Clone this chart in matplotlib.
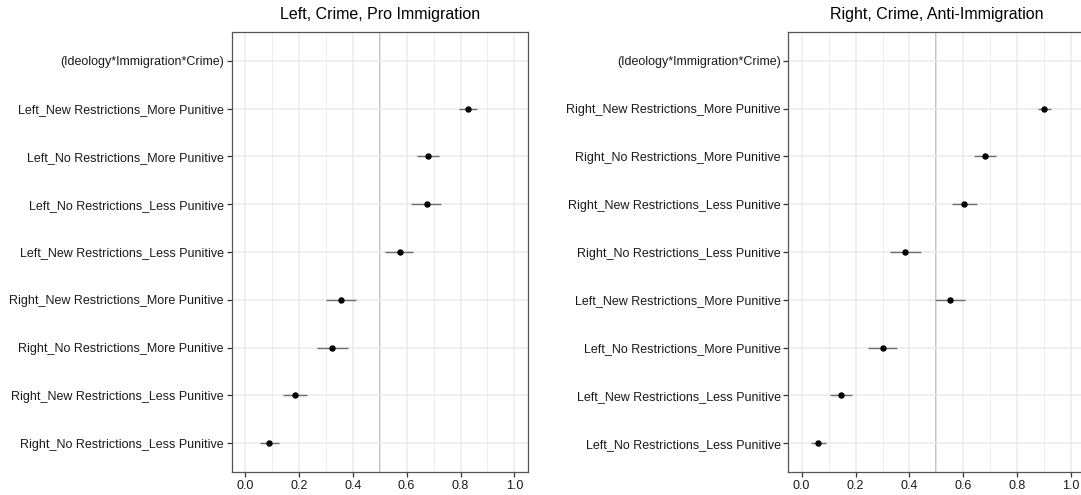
import numpy as np
import matplotlib.pyplot as plt

plt.rcParams['font.family'] = ['Liberation Sans', 'DejaVu Sans']

# coefficient rows, top to bottom; first row is the interaction header with no estimate
left_labels = ['(Ideology*Immigration*Crime)',
               'Left_New Restrictions_More Punitive',
               'Left_No Restrictions_More Punitive',
               'Left_No Restrictions_Less Punitive',
               'Left_New Restrictions_Less Punitive',
               'Right_New Restrictions_More Punitive',
               'Right_No Restrictions_More Punitive',
               'Right_New Restrictions_Less Punitive',
               'Right_No Restrictions_Less Punitive']
left_est = [np.nan, 0.827, 0.679, 0.674, 0.574, 0.355, 0.324, 0.187, 0.091]
left_lo = [np.nan, 0.793, 0.638, 0.618, 0.521, 0.300, 0.266, 0.142, 0.055]
left_hi = [np.nan, 0.861, 0.719, 0.728, 0.624, 0.413, 0.384, 0.232, 0.126]

right_labels = ['(Ideology*Immigration*Crime)',
                'Right_New Restrictions_More Punitive',
                'Right_No Restrictions_More Punitive',
                'Right_New Restrictions_Less Punitive',
                'Right_No Restrictions_Less Punitive',
                'Left_New Restrictions_More Punitive',
                'Left_No Restrictions_More Punitive',
                'Left_New Restrictions_Less Punitive',
                'Left_No Restrictions_Less Punitive']
right_est = [np.nan, 0.900, 0.680, 0.602, 0.384, 0.549, 0.300, 0.146, 0.061]
right_lo = [np.nan, 0.876, 0.639, 0.557, 0.327, 0.495, 0.247, 0.105, 0.034]
right_hi = [np.nan, 0.926, 0.722, 0.650, 0.442, 0.605, 0.353, 0.186, 0.090]

titles = ['Left, Crime, Pro Immigration', 'Right, Crime, Anti-Immigration']


def panel(ax, labels, est, lo, hi, title):
    n = len(labels)
    y = np.arange(n)[::-1] + 1
    ax.set_xlim(-0.05, 1.05)
    ax.set_ylim(0.4, n + 0.6)
    ax.set_xticks(np.arange(0, 1.01, 0.2))
    ax.set_xticks(np.arange(0.1, 1.0, 0.2), minor=True)
    ax.set_xticklabels(['0.0', '0.2', '0.4', '0.6', '0.8', '1.0'])
    ax.set_yticks(y)
    ax.set_yticklabels(labels)
    ax.grid(which='major', color='#ebebeb', lw=1.1, zorder=0)
    ax.grid(which='minor', axis='x', color='#ebebeb', lw=0.6, zorder=0)
    ax.axvline(0.5, color='#b3b3b3', lw=1.1, zorder=1)
    est = np.array(est)
    lo = np.array(lo)
    hi = np.array(hi)
    ax.hlines(y, lo, hi, color='#6e6e6e', lw=1.0, zorder=2)
    ax.plot(est, y, 'o', color='black', ms=3.6, zorder=3)
    for s in ax.spines.values():
        s.set_color('#555555')
        s.set_linewidth(0.9)
    ax.tick_params(axis='both', which='major', length=3.5, width=0.9,
                   color='#333333', labelsize=9.0, labelcolor='#1a1a1a', pad=2)
    ax.tick_params(axis='x', which='minor', length=0)
    ax.set_title(title, fontsize=11.5, pad=9.5)


fig = plt.figure(figsize=(10.81, 4.95), dpi=100)
ax1 = fig.add_axes([231.5 / 1081, 23 / 495, 296.4 / 1081, 440 / 495])
ax2 = fig.add_axes([788.2 / 1081, 23 / 495, 296.4 / 1081, 440 / 495])
panel(ax1, left_labels, left_est, left_lo, left_hi, titles[0])
panel(ax2, right_labels, right_est, right_lo, right_hi, titles[1])

fig.savefig('out.png', dpi=100)
